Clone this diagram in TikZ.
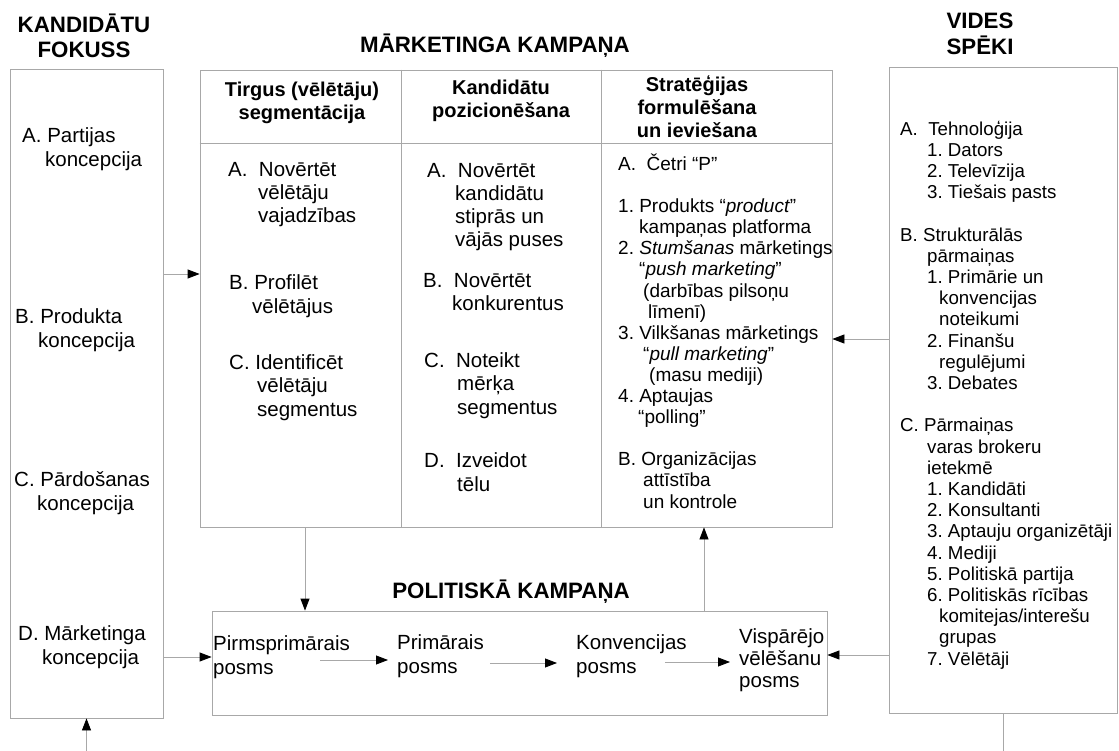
\documentclass[tikz,border=0pt]{standalone}
\usepackage{fontspec}
\setmainfont{Liberation Sans}
\usetikzlibrary{arrows.meta}
\definecolor{ln}{RGB}{168,168,168}
\newcommand\fMainL{\fontsize{20.5}{24}\selectfont}
\newcommand\fMain{\fontsize{20.5}{23.2}\selectfont}
\newcommand\fSmall{\fontsize{19}{21.1}\selectfont}
\newcommand\fRight{\fontsize{18.7}{21.2}\selectfont}
\newcommand\fHead{\fontsize{22.3}{25.5}\selectfont\bfseries}
\newcommand\fColHd{\fontsize{20}{23}\selectfont\bfseries}
\begin{document}
\frenchspacing
\begin{tikzpicture}[x=1pt,y=-1pt,
  box/.style={draw=ln, line width=0.8pt, inner sep=0pt, fill=none},
  conn/.style={draw=ln, line width=0.8pt, -{Triangle[length=12pt,width=9pt,black]}},
  plain/.style={draw=ln, line width=0.8pt},
  txt/.style={inner sep=0pt, anchor=base west, align=left},
  hd/.style={inner sep=0pt, anchor=base, align=center}]
\useasboundingbox (0,0) rectangle (1119,751);

% boxes
\node[box, minimum width=153pt, minimum height=649pt] (lbox) at (86.5,393.5) {};
\node[box, minimum width=632pt, minimum height=457pt] (mbox) at (516,298.5) {};
\node[box, minimum width=228pt, minimum height=646pt] (rbox) at (1003,390) {};
\node[box, minimum width=615pt, minimum height=104pt] (pbox) at (519.5,663) {};

% marketing grid
\draw[plain] (mbox.west |- 0,143) -- (mbox.east |- 0,143);
\draw[plain] (mbox.north -| 401,0) -- (mbox.south -| 401,0);
\draw[plain] (mbox.north -| 601,0) -- (mbox.south -| 601,0);

% headings (anchor = baseline of last line)
\node[hd, font=\fHead] (hk) at (84,58) {KANDIDĀTU\\FOKUSS};
\node[hd, font=\fHead] (hm) at (495,53) {MĀRKETINGA KAMPAŅA};
\node[hd, font=\fontsize{22.3}{26}\selectfont\bfseries] (hv) at (980,55) {VIDES\\SPĒKI};
\node[hd, font=\fHead] (hp) at (511,598) {POLITISKĀ KAMPAŅA};

% column headers
\node[hd, font=\fColHd] (c1h) at (302,120) {Tirgus (vēlētāju)\\segmentācija};
\node[hd, font=\fColHd] (c2h) at (501,118) {Kandidātu\\pozicionēšana};
\node[hd, font=\fColHd] (c3h) at (697,138) {Stratēģijas\\formulēšana\\un ieviešana};

% left box
\node[txt, font=\fMainL] (la) at (22,167) {A. Partijas\\\hspace*{23pt}koncepcija};
\node[txt, font=\fMainL] (lb) at (15,347) {B. Produkta\\\hspace*{23pt}koncepcija};
\node[txt, font=\fMainL] (lc) at (14,510) {C. Pārdošanas\\\hspace*{23pt}koncepcija};
\node[txt, font=\fMainL] (ld) at (18,664) {D. Mārketinga\\\hspace*{24pt}koncepcija};

% column 1
\node[txt, font=\fMain] (c1a) at (228,223) {A.\ \ Novērtēt\\\hspace*{30pt}vēlētāju\\\hspace*{30pt}vajadzības};
\node[txt, font=\fMain] (c1b) at (229,313) {B. Profilēt\\\hspace*{23pt}vēlētājus};
\node[txt, font=\fMain] (c1c) at (229,416) {C. Identificēt\\\hspace*{28pt}vēlētāju\\\hspace*{28pt}segmentus};

% column 2
\node[txt, font=\fMain] (c2a) at (427,247) {A.\ \ Novērtēt\\\hspace*{28pt}kandidātu\\\hspace*{28pt}stiprās un\\\hspace*{28pt}vājās puses};
\node[txt, font=\fMain] (c2b) at (423,311) {B.\ \ Novērtēt\\\hspace*{29pt}konkurentus};
\node[txt, font=\fMain] (c2c) at (424,414) {C.\ \ Noteikt\\\hspace*{33pt}mērķa\\\hspace*{33pt}segmentus};
\node[txt, font=\fMain] (c2d) at (424,491) {D.\ \ Izveidot\\\hspace*{33pt}tēlu};

% column 3
\node[txt, font=\fSmall] (c3) at (618,508) {A.\ \ Četri “P”\\[21.1pt]
1. Produkts “\textit{product}”\\
\hspace*{21pt}kampaņas platforma\\
2. \textit{Stumšanas} mārketings\\
\hspace*{21pt}“\textit{push marketing}”\\
\hspace*{25pt}(darbības pilsoņu\\
\hspace*{30pt}līmenī)\\
3. Vilkšanas mārketings\\
\hspace*{25pt}“\textit{pull marketing}”\\
\hspace*{31pt}(masu mediji)\\
4. Aptaujas\\
\hspace*{20pt}“polling”\\[21.1pt]
B. Organizācijas\\
\hspace*{25pt}attīstība\\
\hspace*{25pt}un kontrole};

% right box
\node[txt, font=\fRight] (rt) at (900,665) {A.\ \ Tehnoloģija\\
\hspace*{27pt}1. Dators\\
\hspace*{27pt}2. Televīzija\\
\hspace*{27pt}3. Tiešais pasts\\[21.2pt]
B. Strukturālās\\
\hspace*{27pt}pārmaiņas\\
\hspace*{27pt}1. Primārie un\\
\hspace*{39pt}konvencijas\\
\hspace*{39pt}noteikumi\\
\hspace*{27pt}2. Finanšu\\
\hspace*{39pt}regulējumi\\
\hspace*{27pt}3. Debates\\[21.2pt]
C. Pārmaiņas\\
\hspace*{27pt}varas brokeru\\
\hspace*{27pt}ietekmē\\
\hspace*{27pt}1. Kandidāti\\
\hspace*{27pt}2. Konsultanti\\
\hspace*{27pt}3. Aptauju organizētāji\\
\hspace*{27pt}4. Mediji\\
\hspace*{27pt}5. Politiskā partija\\
\hspace*{27pt}6. Politiskās rīcības\\
\hspace*{39pt}komitejas/interešu\\
\hspace*{39pt}grupas\\
\hspace*{27pt}7. Vēlētāji};

% political campaign stages
\node[txt, font=\fMain] (pre) at (213,674) {Pirmsprimārais\\posms};
\node[txt, font=\fMain] (prim) at (397,673) {Primārais\\posms};
\node[txt, font=\fMain] (konv) at (576,673) {Konvencijas\\posms};
\node[txt, font=\fontsize{20.5}{22}\selectfont] (visp) at (739,687) {Vispārējo\\vēlēšanu\\posms};

\draw[conn] ([xshift=-30pt]pre.east |- 0,660) -- ([xshift=-9pt]prim.west |- 0,660);
\draw[conn] ([xshift=6pt]prim.east |- 0,663) -- ([xshift=-19pt]konv.west |- 0,663);
\draw[conn] ([xshift=-22pt]konv.east |- 0,662) -- ([xshift=-9pt]visp.west |- 0,662);

% connectors between boxes
\draw[conn] (lbox.east |- 0,274) -- (mbox.west |- 0,274);
\draw[conn] (rbox.west |- 0,339) -- (mbox.east |- 0,339);
\draw[conn] (mbox.south -| 305,0) -- (pbox.north -| 305,0);
\draw[conn] (pbox.north -| 704,0) -- (mbox.south -| 704,0);
\draw[conn] (lbox.east |- 0,657) -- (pbox.west |- 0,657);
\draw[conn] (rbox.west |- 0,655) -- (pbox.east |- 0,655);
\coordinate (lin) at (86.5,751);
\coordinate (rout) at (1003,751);
\draw[conn] (lin) -- (lbox.south);
\draw[plain] (rbox.south) -- (rout);
\end{tikzpicture}
\end{document}
